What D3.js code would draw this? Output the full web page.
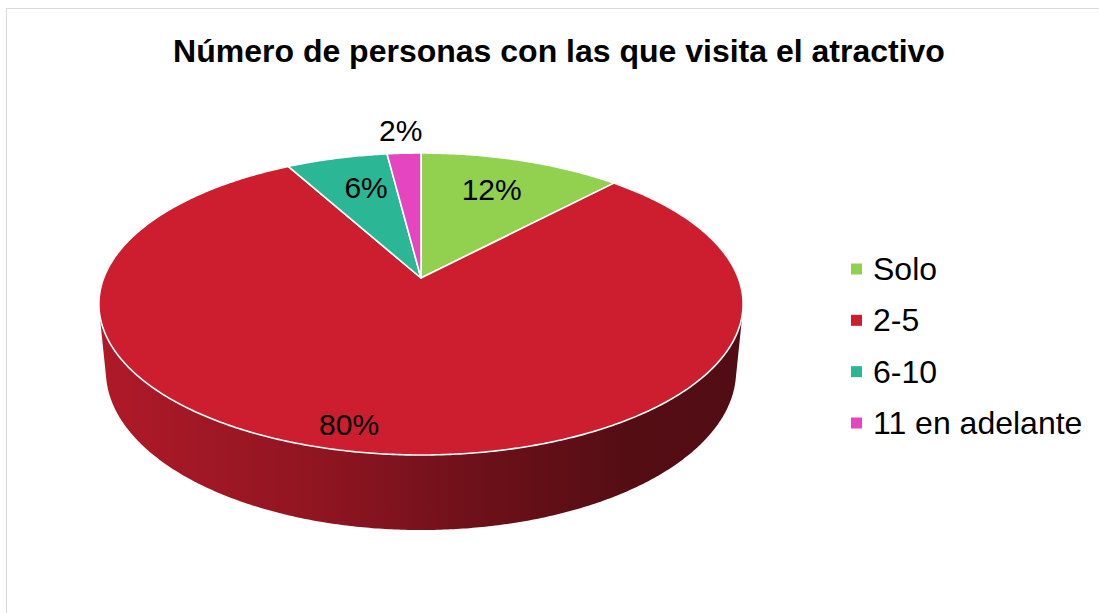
<!DOCTYPE html>
<html>
<head>
<meta charset="utf-8">
<script src="https://cdn.jsdelivr.net/npm/d3@7.9.0/dist/d3.min.js"></script>
<style>
  html, body { margin: 0; padding: 0; background: #fff; }
  svg { display: block; font-family: 'Liberation Sans', Arial, sans-serif; }
</style>
</head>
<body>
<svg id="chart" width="1099" height="613"></svg>
<script>
// Chart data
const title = 'Número de personas con las que visita el atractivo';
const categories = ['Solo', '2-5', '6-10', '11 en adelante'];
const values = [12, 80, 6, 2];
const percentLabels = ['12%', '80%', '6%', '2%'];
const colors = ['#92d050', '#cc1e2f', '#2bb795', '#e545bf'];

// Label placement (Excel "best fit"): radius as fraction of pie radius, angle nudge in degrees
const labelRadius = [0.72, 0.873, 0.72, 1.23];
const labelNudge = [-1.4, 5.6, 2.4, 0];

const svg = d3.select('#chart');

// Chart area border
svg.append('rect')
  .attr('x', 6.5).attr('y', 8.5)
  .attr('width', 1200).attr('height', 700)
  .attr('fill', '#fff')
  .attr('stroke', '#d9d9d9')
  .attr('stroke-width', 1);

// Title
svg.append('text')
  .attr('x', 559).attr('y', 62)
  .attr('text-anchor', 'middle')
  .attr('font-size', 32)
  .attr('font-weight', 'bold')
  .attr('fill', '#000')
  .text(title);

// 3D perspective projection of a disc of radius 1
const cx = 421, cy = 278;     // screen position of the pie centre
const focal = 1634;           // focal length in px
const dist = 5.15;            // camera distance in radii
const tilt = 27.5 * Math.PI / 180;
const sinT = Math.sin(tilt), cosT = Math.cos(tilt);
const depth = 0.24;           // thickness of the pie in radii

// angle: clockwise from 12 o'clock (same as d3.pie), r: radius, h: height
function project(angle, r, h) {
  const X = r * Math.sin(angle);
  const Y = r * Math.cos(angle);      // positive = away from viewer
  const yc = Y * sinT + h * cosT;
  const zc = dist + Y * cosT - h * sinT;
  return [cx + focal * X / zc, cy - focal * yc / zc];
}

const pie = d3.pie().sort(null).value(d => d)
  .startAngle(0).endAngle(2 * Math.PI);
const arcs = pie(values);

const line = d3.line();
const step = Math.PI / 360;

function sample(a0, a1) {
  const n = Math.max(2, Math.ceil(Math.abs(a1 - a0) / step));
  return d3.range(n + 1).map(i => a0 + (a1 - a0) * i / n);
}

// Side wall: visible where the outer surface faces the camera
const visLimit = Math.acos(-1 / (dist * cosT));
const visStart = visLimit, visEnd = 2 * Math.PI - visLimit;

const defs = svg.append('defs');
const left = project(-Math.PI / 2, 1, 0)[0];
const right = project(Math.PI / 2, 1, 0)[0];

arcs.forEach((d, i) => {
  const a0 = Math.max(d.startAngle, visStart);
  const a1 = Math.min(d.endAngle, visEnd);
  if (a1 <= a0) return;
  const base = d3.color(colors[i]);
  const grad = defs.append('linearGradient')
    .attr('id', 'side' + i)
    .attr('gradientUnits', 'userSpaceOnUse')
    .attr('x1', left - 25).attr('x2', right + 25)
    .attr('y1', 0).attr('y2', 0);
  [[0, 0.36], [0.35, 1.0], [0.6, 1.8], [0.8, 2.45], [1, 2.6]].forEach(([o, k]) => {
    grad.append('stop').attr('offset', o).attr('stop-color', base.darker(k).formatHex());
  });
  const angles = sample(a0, a1);
  const pts = angles.map(a => project(a, 1, 0))
    .concat(angles.slice().reverse().map(a => project(a, 1, -depth)));
  svg.append('path')
    .attr('d', line(pts) + 'Z')
    .attr('fill', `url(#side${i})`);
});

// Top face slices
arcs.forEach((d, i) => {
  const pts = [project(0, 0, 0)].concat(sample(d.startAngle, d.endAngle).map(a => project(a, 1, 0)));
  svg.append('path')
    .attr('d', line(pts) + 'Z')
    .attr('fill', colors[i])
    .attr('stroke', '#fff')
    .attr('stroke-width', 1.6)
    .attr('stroke-linejoin', 'round');
});

// Data labels
arcs.forEach((d, i) => {
  const mid = (d.startAngle + d.endAngle) / 2 + labelNudge[i] * Math.PI / 180;
  const [x, y] = project(mid, labelRadius[i], 0);
  svg.append('text')
    .attr('x', x).attr('y', y + 11)
    .attr('text-anchor', 'middle')
    .attr('font-size', 30)
    .attr('fill', '#000')
    .text(percentLabels[i]);
});

// Legend
const legendY = d3.scalePoint().domain(categories).range([269, 423]);
const legend = svg.append('g');
categories.forEach((c, i) => {
  const y = legendY(c);
  legend.append('rect')
    .attr('x', 851).attr('y', y - 5.5)
    .attr('width', 11).attr('height', 11)
    .attr('fill', colors[i]);
  legend.append('text')
    .attr('x', 873).attr('y', y + 11)
    .attr('font-size', 32)
    .attr('fill', '#000')
    .text(c);
});
</script>
</body>
</html>
